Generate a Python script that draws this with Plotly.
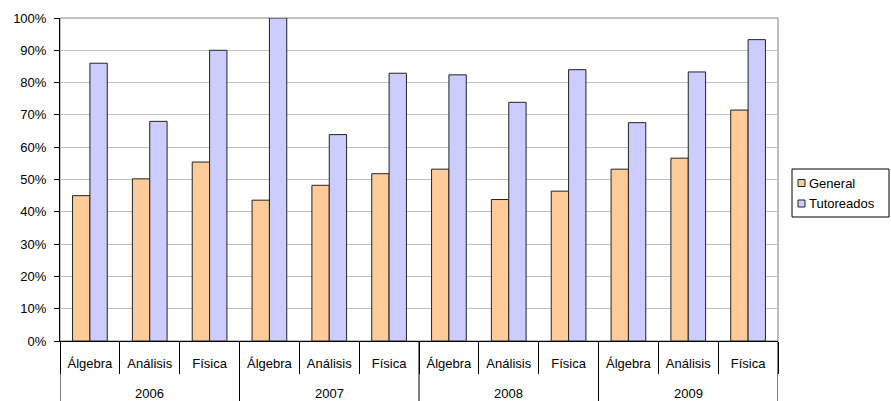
import plotly.graph_objects as go

# Pass rates per subject and year
years = ["2006", "2007", "2008", "2009"]
subjects = ["Álgebra", "Análisis", "Física"]
general = [0.450, 0.502, 0.554,
           0.436, 0.482, 0.518,
           0.532, 0.438, 0.464,
           0.532, 0.566, 0.715]
tutoreados = [0.860, 0.680, 0.900,
              1.000, 0.639, 0.829,
              0.824, 0.739, 0.840,
              0.676, 0.833, 0.933]
series_names = ["General", "Tutoreados"]
series_colors = ["#FFCC99", "#CCCCFF"]
y_ticks = [i / 10 for i in range(11)]

n_sub = len(subjects)
pos = list(range(len(years) * n_sub))
inner_labels = [s for _ in years for s in subjects]
boundaries = [p - 0.5 for p in pos] + [pos[-1] + 0.5]

FONT = "Liberation Sans, Arial, sans-serif"
FS = 13
W, H = 891, 401
ML, MR, MT, MB = 60, 113, 18, 60
PLOT_W = W - ML - MR
PLOT_H = H - MT - MB
OUTLINE = "#222222"


def px_x(px):
    """Horizontal pixel -> paper coordinate."""
    return (px - ML) / PLOT_W


def px_y(py):
    """Vertical pixel (from top) -> paper coordinate."""
    return (H - MB - py) / PLOT_H


fig = go.Figure()
for name, vals, col in zip(series_names, [general, tutoreados], series_colors):
    fig.add_trace(go.Bar(name=name, x=pos, y=vals,
                         marker=dict(color=col, line=dict(color=OUTLINE, width=1))))

fig.update_layout(
    width=W, height=H,
    margin=dict(l=ML, r=MR, t=MT, b=MB, autoexpand=False),
    paper_bgcolor="white", plot_bgcolor="white",
    barmode="group", bargap=0.42, bargroupgap=0,
    font=dict(family=FONT, size=FS, color="#000000"),
    showlegend=False,
)

fig.update_yaxes(range=[0, 1], tickvals=y_ticks, tickformat=".0%",
                 ticks="outside", ticklen=5, tickcolor="#000000",
                 ticklabelstandoff=5,
                 showgrid=True, gridcolor="#C0C0C0", gridwidth=1,
                 showline=True, linecolor="#000000", linewidth=1,
                 zeroline=False, tickfont=dict(size=FS))
fig.update_xaxes(range=[boundaries[0], boundaries[-1]],
                 tickmode="array", tickvals=pos, ticktext=inner_labels,
                 ticks="outside", ticklen=10, tickcolor="rgba(0,0,0,0)",
                 minor=dict(tickmode="array", tickvals=boundaries, ticks="outside",
                            ticklen=32, tickcolor="#000000", showgrid=False),
                 showgrid=False, zeroline=False,
                 showline=True, linecolor="#000000", linewidth=1,
                 tickfont=dict(size=FS))

# grey frame on top and right of the plot area
fig.add_shape(type="rect", xref="paper", yref="paper", x0=0, x1=1, y0=0, y1=1,
              line=dict(color="#808080", width=1), layer="below")

# year group dividers and labels
for i, yr in enumerate(years):
    left = boundaries[i * n_sub]
    fig.add_shape(type="line", xref="x", yref="paper", x0=left, x1=left,
                  y0=0, y1=-MB / PLOT_H, line=dict(color="#000000", width=1))
    center = sum(pos[i * n_sub:(i + 1) * n_sub]) / n_sub
    fig.add_annotation(x=center, xref="x", y=px_y(393), yref="paper",
                       text=yr, showarrow=False, yanchor="middle",
                       font=dict(family=FONT, size=FS, color="#000000"))
fig.add_shape(type="line", xref="x", yref="paper", x0=boundaries[-1], x1=boundaries[-1],
              y0=0, y1=-MB / PLOT_H, line=dict(color="#000000", width=1))

# legend box with swatches
fig.add_shape(type="rect", xref="paper", yref="paper",
              x0=px_x(792), x1=px_x(889), y0=px_y(217), y1=px_y(169),
              line=dict(color="#000000", width=1), fillcolor="white")
for k, (name, col) in enumerate(zip(series_names, series_colors)):
    cy = 183 + k * 20.5
    fig.add_shape(type="rect", xref="paper", yref="paper",
                  x0=px_x(798), x1=px_x(805), y0=px_y(cy + 3.5), y1=px_y(cy - 3.5),
                  line=dict(color=OUTLINE, width=1), fillcolor=col)
    fig.add_annotation(x=px_x(807), xref="paper", y=px_y(cy), yref="paper",
                       text=name, showarrow=False, xanchor="left", yanchor="middle",
                       font=dict(family=FONT, size=FS, color="#000000"))

fig.write_html("out.html")
